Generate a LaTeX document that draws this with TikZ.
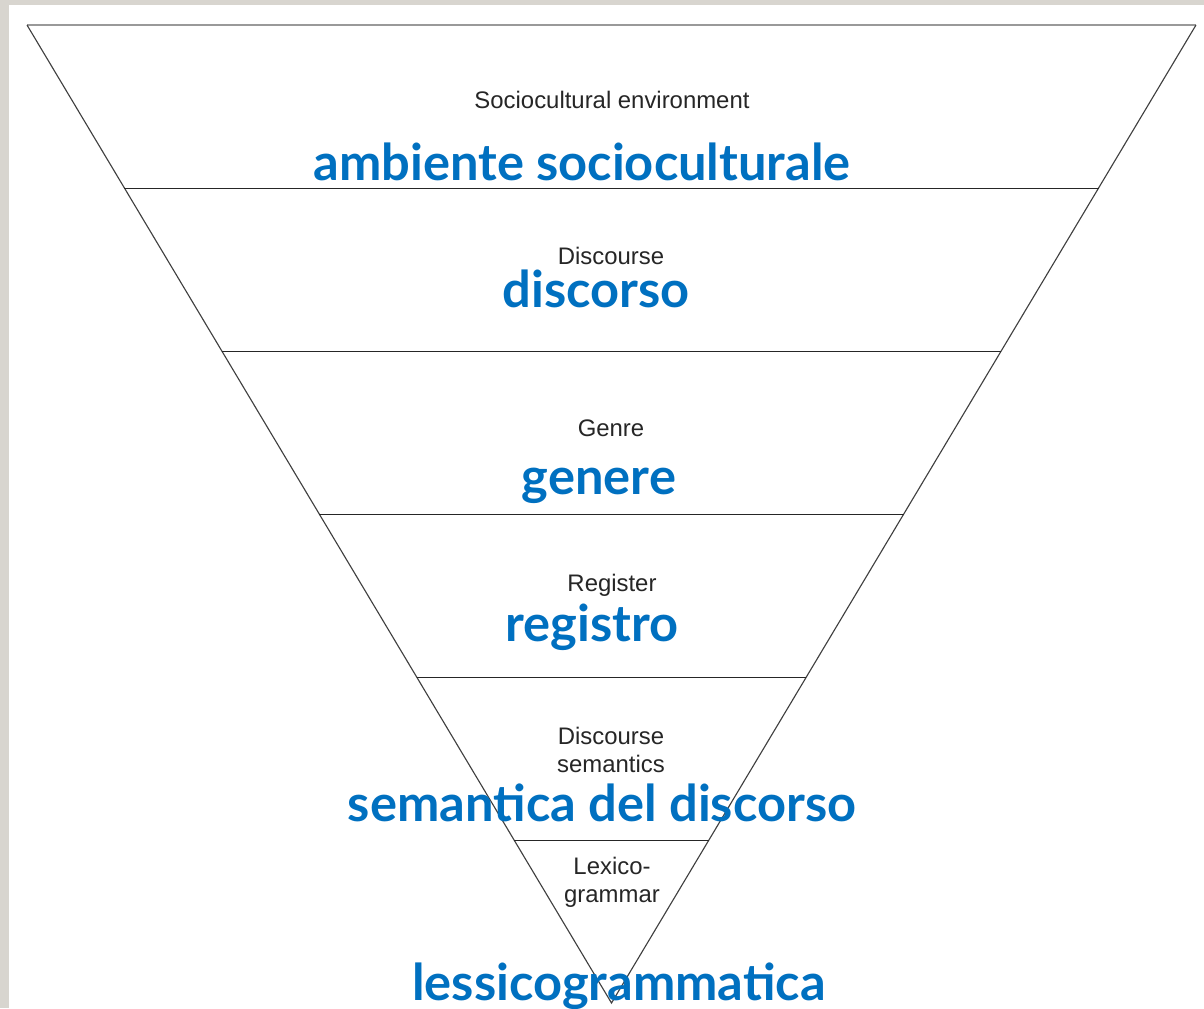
\documentclass[tikz,border=0pt]{standalone}
\usepackage{fontspec}
\setmainfont{Liberation Sans}
\newfontfamily\blufont{Lato}
\usetikzlibrary{positioning, calc}
\definecolor{slideblue}{HTML}{0070C0}
\definecolor{framegray}{HTML}{D8D5CF}

\tikzset{
    eng/.style={font=\fontsize{17}{20}\selectfont, align=center, text=black!85, inner sep=1pt},
    ita/.style={font=\blufont\bfseries\fontsize{36}{38}\selectfont, text=slideblue, inner sep=0pt, anchor=base},
}

\begin{document}
\begin{tikzpicture}[x=0.025cm, y=-0.025cm]
    % Slide background and frame
    \fill[framegray] (0,0) rectangle (1204,1008);
    \fill[white] (9,5) rectangle (1204,1008);
    \useasboundingbox (0,0) rectangle (1204,1008);

    % Inverted triangle
    \coordinate (tl) at (27,25);
    \coordinate (tr) at (1196,25);
    \coordinate (apex) at (611.5,1003);
    \draw[gray!80, line width=1.4pt] (tl) -- (tr);
    \draw[black!75, line width=0.8pt] (tl) -- (apex) -- (tr);

    % Level separators
    \foreach \k in {1,...,5} {
        \coordinate (l\k) at ($(tl)!\k/6!(apex)$);
        \coordinate (r\k) at ($(tr)!\k/6!(apex)$);
        \draw[black!85, line width=0.7pt] (l\k) -- (r\k);
    }

    % English labels
    \node[eng, anchor=base] (socio) at (612,108) {Sociocultural environment};
    \node[eng, anchor=base] (disc) at (611,264) {Discourse};
    \node[eng, anchor=base] (genre) at (611,436) {Genre};
    \node[eng, anchor=base] (reg) at (612,591) {Register};
    \node[eng] (dsem) at (611,750) {Discourse\\semantics};
    \node[eng] (lexg) at (612,882) {Lexico-\\grammar};

    % Italian labels
    \node[ita] (ambiente) at (582,180) {ambiente socioculturale};
    \node[ita] (discorso) at (596,307) {discorso};
    \node[ita] (genere) at (599,494) {genere};
    \node[ita] (registro) at (592,641) {registro};
    \node[ita] (semantica) at (602,821) {semantica del discorso};
    \node[ita] (lessico) at (619,1000) {lessicogrammatica};
\end{tikzpicture}
\end{document}
